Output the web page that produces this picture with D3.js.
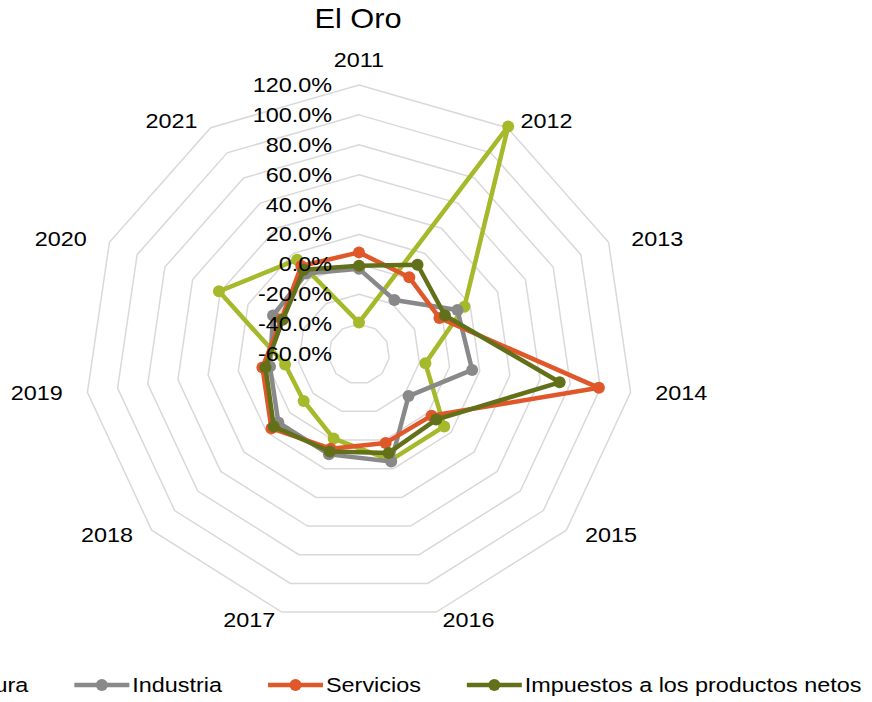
<!DOCTYPE html>
<html>
<head>
<meta charset="utf-8">
<script src="https://cdn.jsdelivr.net/npm/d3@7"></script>
<style>
  body { margin: 0; background: #fff; }
  svg { display: block; }
  text { font-family: "Liberation Sans", Arial, sans-serif; fill: #000; }
</style>
</head>
<body>
<div id="chart"></div>
<script>
// data (growth rates, %)
const years = ["2011", "2012", "2013", "2014", "2015", "2016", "2017", "2018", "2019", "2020", "2021"];
const agricultura = [-39, 121, 16, -16, 14, 14, -1, -12, -11, 41, 15];
const industria   = [-3, -17, 11, 15, -17, 15, 10, 10, -1, 2, 4];
const servicios   = [8, 1, -2, 99, 3, 2, 6, 16, 4, -4, 10];
const impuestos   = [-1, 11, 2, 73, 7, 9, 8, 14, 2, -5, 7];
const seriesNames = ["Agricultura", "Industria", "Servicios", "Impuestos a los productos netos"];
const tickValues  = [-60, -40, -20, 0, 20, 40, 60, 80, 100, 120];

const colors = ["#a5b92a", "#898989", "#e0572a", "#63701a"];
const series = [agricultura, industria, servicios, impuestos];

const width = 872, height = 702;
const cx = 359, cy = 354, R = 269;
const kx = 1.02;         // plot is a touch wider than tall
const sx = 1.2;          // the original text is a bit wider than Arial
const fs = 19.5;

const svg = d3.select("#chart").append("svg")
  .attr("width", width)
  .attr("height", height);

// text helper, stretched horizontally around its anchor point
function label(parent, x, y, str, size, anchor, k = sx) {
  return parent.append("text")
    .attr("transform", `translate(${x},${y}) scale(${k},1)`)
    .attr("text-anchor", anchor)
    .attr("font-size", size)
    .text(str);
}

const pct = d3.formatLocale({ decimal: ".", thousands: ",", grouping: [3], currency: ["", ""], minus: "-" }).format(".1%");

const r = d3.scaleLinear().domain([-60, 120]).range([0, R]);
const angle = d3.scaleLinear().domain([0, years.length]).range([0, 2 * Math.PI]);
const px = (v, i) => kx * r(v) * Math.sin(angle(i));
const py = (v, i) => -r(v) * Math.cos(angle(i));

const g = svg.append("g").attr("transform", `translate(${cx},${cy})`);

// grid rings
tickValues.slice(1).forEach(t => {
  const ring = d3.line()
    .x((d, i) => px(t, i))
    .y((d, i) => py(t, i))
    .curve(d3.curveLinearClosed);
  g.append("path")
    .attr("d", ring(years))
    .attr("fill", "none")
    .attr("stroke", "#d9d9d9")
    .attr("stroke-width", 1.5);
});

// series
const line = d3.line()
  .x((d, i) => px(d, i))
  .y((d, i) => py(d, i))
  .curve(d3.curveLinearClosed);

series.forEach((vals, s) => {
  const sg = g.append("g");
  sg.append("path")
    .attr("d", line(vals))
    .attr("fill", "none")
    .attr("stroke", colors[s])
    .attr("stroke-width", 4.5)
    .attr("stroke-linejoin", "round");
  sg.selectAll("circle")
    .data(vals)
    .enter().append("circle")
    .attr("cx", (d, i) => px(d, i))
    .attr("cy", (d, i) => py(d, i))
    .attr("r", 6)
    .attr("fill", colors[s]);
});

// category labels
years.forEach((yr, i) => {
  const ux = Math.sin(angle(i)), uy = -Math.cos(angle(i));
  let x = kx * R * ux, y = R * uy;
  if (Math.abs(ux) > 0.1) x += 25 * Math.sign(ux) + 26 * ux;
  y += uy * 8 - (Math.abs(ux) < 0.1 ? 17 : 0);
  label(g, x, y + 7, yr, fs, "middle");
});

// radial tick labels
tickValues.forEach(t => {
  label(g, -27, -r(t) + 7, pct(t / 100), fs, "end");
});

// title
label(svg, 358, 28, "El Oro", 27, "middle", 1.14);

// legend
const legend = svg.append("g");
const items = seriesNames.map((name, s) => {
  const it = legend.append("g");
  it.append("line")
    .attr("x1", 0).attr("x2", 55)
    .attr("y1", 0).attr("y2", 0)
    .attr("stroke", colors[s])
    .attr("stroke-width", 4.5);
  it.append("circle")
    .attr("cx", 27.5).attr("cy", 0).attr("r", 6)
    .attr("fill", colors[s]);
  const t = label(it, 58, 7, name, fs, "start");
  return { it, w: 58 + t.node().getComputedTextLength() * sx };
});
const gap = 46;
const total = d3.sum(items, d => d.w) + gap * (items.length - 1);
let lx = 360 - total / 2;
items.forEach(d => {
  d.it.attr("transform", `translate(${lx},685)`);
  lx += d.w + gap;
});
</script>
</body>
</html>
